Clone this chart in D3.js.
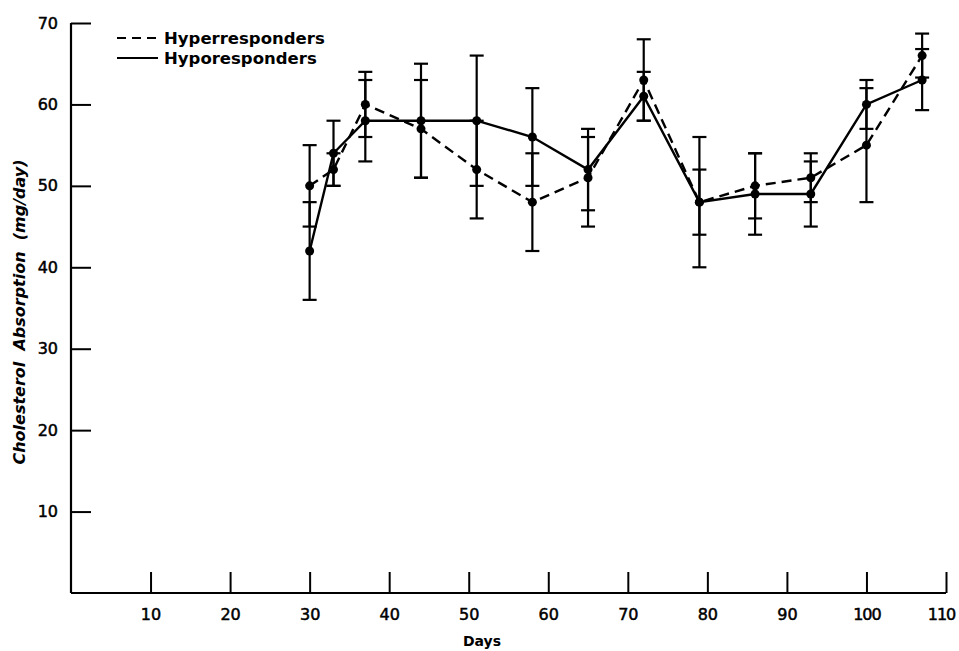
<!DOCTYPE html>
<html>
<head>
<meta charset="utf-8">
<script src="https://cdn.jsdelivr.net/npm/d3@7"></script>
<style>
  html, body { margin: 0; padding: 0; background: #fff; }
  svg { display: block; }
  text { font-family: "DejaVu Sans", "Liberation Sans", sans-serif; fill: #000; }
</style>
</head>
<body>
<svg id="chart" width="959" height="651"></svg>
<script>
// ---- data ----
const days = [30, 33, 37, 44, 51, 58, 65, 72, 79, 86, 93, 100, 107];
const hyperMean  = [50, 52, 60, 57, 52, 48, 51, 63, 48, 50, 51, 55, 66];
const hyperUpper = [55, 54, 64, 63, 58, 54, 56, 68, 56, 54, 54, 62, 68.7];
const hyperLower = [45, 50, 56, 51, 46, 42, 45, 58, 40, 46, 48, 48, 63.3];
const hypoMean   = [42, 54, 58, 58, 58, 56, 52, 61, 48, 49, 49, 60, 63];
const hypoUpper  = [48, 58, 63, 65, 66, 62, 57, 64, 52, 54, 53, 63, 66.8];
const hypoLower  = [36, 50, 53, 51, 50, 50, 47, 58, 44, 44, 45, 57, 59.3];
const xTicks = [10, 20, 30, 40, 50, 60, 70, 80, 90, 100, 110];
const yTicks = [10, 20, 30, 40, 50, 60, 70];
const seriesNames = ["Hyperresponders", "Hyporesponders"];

// ---- scales ----
const svg = d3.select("#chart");
const x = d3.scaleLinear().domain([0, 110]).range([71, 946]);
const y = d3.scaleLinear().domain([0, 70]).range([593, 23]);

// ---- axes ----
const xAxis = svg.append("g").attr("transform", `translate(0,${y(0)})`)
  .call(d3.axisBottom(x).tickValues(xTicks).tickSizeInner(-21).tickSizeOuter(0).tickPadding(27));
const yAxis = svg.append("g").attr("transform", `translate(${x(0)},0)`)
  .call(d3.axisLeft(y).tickValues(yTicks).tickSizeInner(-20).tickSizeOuter(0).tickPadding(13));
[xAxis, yAxis].forEach(a => {
  a.select(".domain").attr("stroke", "#000").attr("stroke-width", 2.2);
  a.selectAll(".tick line").attr("stroke", "#000").attr("stroke-width", 2);
  a.selectAll(".tick text").attr("font-size", 16)
    .attr("font-family", "'DejaVu Sans', sans-serif").attr("fill", "#000")
    .attr("stroke", "#000").attr("stroke-width", 0.5);
});
xAxis.select(".domain").attr("d", `M${x(0)},0H${x(110)}`);
yAxis.select(".domain").attr("d", `M0,${y(0)}V${y(70)}`);
xAxis.selectAll(".tick text").attr("dy", "0")
  .attr("letter-spacing", d => d >= 100 ? -1 : null)
  .attr("dx", d => d === 110 ? -5 : null);

// ---- axis titles ----
svg.append("text").attr("x", 482).attr("y", 646).attr("text-anchor", "middle")
  .attr("font-size", 14).attr("font-weight", "bold").text("Days");
svg.append("text").attr("transform", `translate(25,312) rotate(-90)`)
  .attr("text-anchor", "middle").attr("font-size", 16).attr("font-weight", "bold")
  .attr("font-style", "italic").attr("xml:space", "preserve")
  .text("Cholesterol  Absorption  (mg/day)");

// ---- series ----
const series = [
  { name: seriesNames[0], mean: hyperMean, up: hyperUpper, lo: hyperLower, dash: "10,6" },
  { name: seriesNames[1], mean: hypoMean,  up: hypoUpper,  lo: hypoLower,  dash: null }
];
const line = d3.line().x(d => x(d[0])).y(d => y(d[1]));
series.forEach(s => {
  const g = svg.append("g");
  const pts = days.map((d, i) => [d, s.mean[i], s.up[i], s.lo[i]]);
  pts.forEach(p => {
    g.append("line").attr("x1", x(p[0])).attr("x2", x(p[0]))
      .attr("y1", y(p[2])).attr("y2", y(p[3])).attr("stroke", "#000").attr("stroke-width", 2.2);
    [p[2], p[3]].forEach(v => {
      g.append("line").attr("x1", x(p[0]) - 7).attr("x2", x(p[0]) + 7)
        .attr("y1", y(v)).attr("y2", y(v)).attr("stroke", "#000").attr("stroke-width", 2.2);
    });
  });
  g.append("path").datum(pts).attr("d", line).attr("fill", "none")
    .attr("stroke", "#000").attr("stroke-width", 2.4)
    .attr("stroke-dasharray", s.dash);
  g.selectAll("circle").data(pts).join("circle")
    .attr("cx", p => x(p[0])).attr("cy", p => y(p[1])).attr("r", 4.5).attr("fill", "#000");
});

// ---- legend ----
const legend = svg.append("g");
series.forEach((s, i) => {
  const ly = 38 + i * 20;
  legend.append("line").attr("x1", 117).attr("x2", 158).attr("y1", ly).attr("y2", ly)
    .attr("stroke", "#000").attr("stroke-width", 2.2).attr("stroke-dasharray", s.dash ? "9,6" : null);
  legend.append("text").attr("x", 164).attr("y", ly + 6).attr("font-size", 16.5)
    .attr("font-weight", "bold").text(s.name);
});
</script>
</body>
</html>
